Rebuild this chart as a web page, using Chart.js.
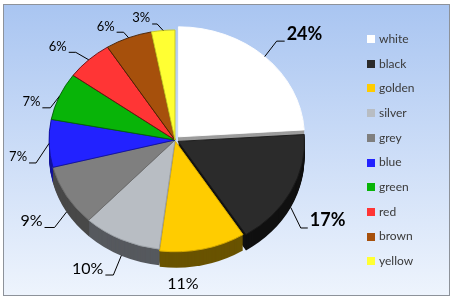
<!DOCTYPE html>
<html>
<head>
<meta charset="utf-8">
<script src="https://cdn.jsdelivr.net/npm/chart.js@4.4.1/dist/chart.umd.min.js"></script>
<style>
  html, body { margin: 0; padding: 0; background: #ffffff; }
  canvas { display: block; }
</style>
</head>
<body>
<canvas id="pieChart" width="454" height="300"></canvas>
<script>
// data
const colorNames = ["white", "black", "golden", "silver", "grey", "blue", "green", "red", "brown", "yellow"];
const shares = [24, 17, 11, 10, 9, 7, 7, 6, 6, 3];

// styles
const faceColors = ["#ffffff", "#2b2b2b", "#ffcc00", "#b8bdc3", "#7f7f7f", "#2222ff", "#08b408", "#ff3535", "#a6500c", "#ffff33"];
const sideColors = ["#9c9c9c", "#101010", "#695300", "#56595e", "#484848", "#14149a", "#006b00", "#9c1a1a", "#5a2a04", "#9a9a12"];
const edgeColors = ["#ffffff", "#1a1a1a", "#d9ad00", "#9ea3a8", "#6a6a6a", "#1010a0", "#05600a", "#6a1010", "#4a2204", "#c8c820"];
const explode = [20, 14, 6, 0, 0, 0, 0, 0, 0, 0];
// leader line: [elbow dx, elbow dy, horizontal length]
const labelLeg = [[12, -16, 8], [10, 20, 7], [-20, 19, 0], [-8, 19, 8], [-12, 15, 10], [-13, 19, 7], [-9, 11, 8], [-13, -8, 7], [-5, -6, 7], [-6, -7, 5]];

const SY = 0.873;
const DEPTH = 16;

function arcGeom(arc) {
    const p = arc.getProps(["x", "y", "startAngle", "endAngle", "outerRadius", "circumference"], true);
    const off = (arc.options.offset || 0) / 4;
    const fix = 1 - Math.sin(Math.min(Math.PI, p.circumference || 0));
    const t = off * (1 + fix);
    const mid = (p.startAngle + p.endAngle) / 2;
    return { p, mid, ox: p.x + Math.cos(mid) * t, oy: p.y + Math.sin(mid) * t };
}

const pie3d = {
    id: "pie3d",
    beforeDraw(chart) {
        const ctx = chart.ctx;
        ctx.save();
        const g = ctx.createLinearGradient(0, 4, 0, 296);
        g.addColorStop(0, "#a9c5f1");
        g.addColorStop(1, "#eef4fd");
        ctx.fillStyle = g;
        ctx.fillRect(3.5, 4.5, 446, 291);
        ctx.strokeStyle = "#8d929a";
        ctx.lineWidth = 1;
        ctx.strokeRect(3.5, 4.5, 446, 291);
        ctx.restore();
    },
    beforeDatasetsDraw(chart) {
        const ctx = chart.ctx;
        const meta = chart.getDatasetMeta(0);
        const cx = meta.data[0].x, cy = meta.data[0].y;
        ctx.save();
        ctx.translate(cx, cy);
        ctx.scale(1, SY);
        ctx.translate(-cx, -cy);
        const order = meta.data.map((arc, i) => ({ arc, i, g: arcGeom(arc) }))
            .sort((a, b) => Math.sin(a.g.mid) - Math.sin(b.g.mid));
        order.forEach(({ i, g }) => {
            ctx.fillStyle = sideColors[i];
            for (let d = DEPTH; d >= 1; d--) {
                const y = g.oy + d / SY;
                ctx.beginPath();
                ctx.moveTo(g.ox, y);
                ctx.arc(g.ox, y, g.p.outerRadius, g.p.startAngle, g.p.endAngle);
                ctx.closePath();
                ctx.fill();
            }
        });
    },
    afterDatasetsDraw(chart) {
        const ctx = chart.ctx;
        ctx.restore();
        const meta = chart.getDatasetMeta(0);
        const cx = meta.data[0].x, cy = meta.data[0].y;

        // percentage labels with leader lines
        meta.data.forEach((arc, i) => {
            const g = arcGeom(arc);
            const r = g.p.outerRadius;
            const s = Math.sin(g.mid);
            const ax = g.ox + Math.cos(g.mid) * r;
            const ay = cy + (g.oy - cy + s * r) * SY + (s > 0.3 ? DEPTH : 0);
            const [dx, dy, h] = labelLeg[i];
            const ex = ax + dx, ey = ay + dy;
            const v = shares[i];
            const txt = v + "%";
            ctx.save();
            ctx.fillStyle = "#000000";
            ctx.font = v >= 15 ? "bold 18px Lato" : (v >= 9 ? "16px Lato" : "13px Lato");
            if (h === 0) {
                ctx.textAlign = "center";
                ctx.textBaseline = "middle";
                ctx.fillText(txt, ex, ey);
            } else {
                const dir = dx > 0 ? 1 : -1;
                ctx.strokeStyle = "#000000";
                ctx.lineWidth = 1;
                ctx.beginPath();
                ctx.moveTo(ax, ay);
                ctx.lineTo(ex, ey + 0.5);
                ctx.lineTo(ex + dir * h, ey + 0.5);
                ctx.stroke();
                ctx.textBaseline = "alphabetic";
                ctx.textAlign = dir > 0 ? "left" : "right";
                ctx.fillText(txt, ex + dir * (h + 2), ey - 1);
            }
            ctx.restore();
        });

        // legend
        ctx.save();
        ctx.font = "12px Lato";
        ctx.textBaseline = "middle";
        ctx.textAlign = "left";
        colorNames.forEach((name, i) => {
            const y = 39 + i * 24.7;
            ctx.fillStyle = faceColors[i];
            ctx.fillRect(367, Math.round(y - 4), 8, 8);
            ctx.fillStyle = "#3a3a3a";
            ctx.fillText(name, 379, y);
        });
        ctx.restore();
    }
};

new Chart(document.getElementById("pieChart").getContext("2d"), {
    type: "pie",
    data: {
        labels: colorNames,
        datasets: [{
            data: shares,
            backgroundColor: faceColors,
            borderColor: edgeColors,
            borderWidth: 1,
            offset: explode
        }]
    },
    options: {
        responsive: false,
        animation: false,
        devicePixelRatio: 1,
        events: [],
        radius: 126,
        layout: { padding: { left: 20, right: 124, top: 10, bottom: 30 } },
        plugins: {
            legend: { display: false },
            tooltip: { enabled: false }
        }
    },
    plugins: [pie3d]
});
</script>
</body>
</html>
